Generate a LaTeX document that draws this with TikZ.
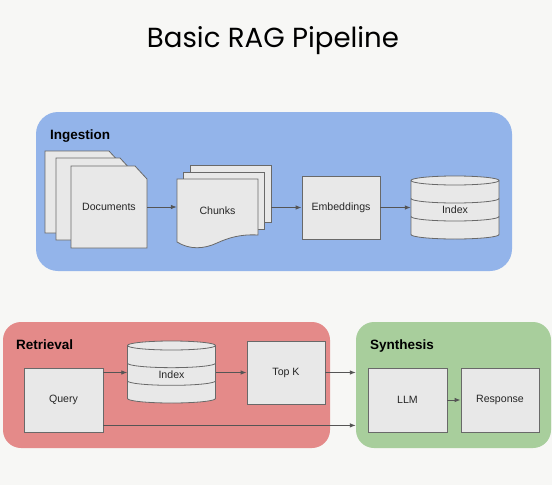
\documentclass[tikz,border=0pt]{standalone}
\usepackage{fontspec}
\setmainfont{Liberation Sans}
\newfontfamily\titlefont{Poppins}
\usetikzlibrary{arrows.meta, positioning}
\definecolor{pagebg}{RGB}{247, 247, 245}
\definecolor{ingestblue}{RGB}{147, 180, 234}
\definecolor{retrievered}{RGB}{228, 138, 137}
\definecolor{synthgreen}{RGB}{168, 206, 156}
\definecolor{boxfill}{RGB}{232, 232, 232}
\definecolor{boxline}{RGB}{105, 105, 105}
\definecolor{arrowgray}{RGB}{85, 85, 85}

% page with a cut corner, top left at (#1,#2)
\newcommand{\docpage}[2]{%
  \filldraw[sheet] (#1,#2) -- ++(64,0) -- ++(12,13) -- ++(0,69) -- ++(-76,0) -- cycle;}

% database drum: centre x #1, top y #2, height #3
\newcommand{\drum}[3]{%
  \filldraw[sheet] (#1-44,#2+4.5) -- (#1-44,#2+#3-4.5)
    arc[start angle=180, end angle=360, x radius=44pt, y radius=4.5pt]
    -- (#1+44,#2+4.5)
    arc[start angle=0, end angle=180, x radius=44pt, y radius=4.5pt] -- cycle;
  \draw[rim] (#1-44,#2+4.5)
    arc[start angle=180, end angle=360, x radius=44pt, y radius=4.5pt];
  \draw[rim] (#1-44,#2+4.5+#3/3-3)
    arc[start angle=180, end angle=360, x radius=44pt, y radius=4.5pt];
  \draw[rim] (#1-44,#2+4.5+2*#3/3-6)
    arc[start angle=180, end angle=360, x radius=44pt, y radius=4.5pt];}

\begin{document}
\begin{tikzpicture}[x=1pt, y=-1pt,
    >={Latex[length=6pt, width=4.5pt]},
    group/.style={rectangle, draw=none, inner sep=0pt},
    grouplabel/.style={anchor=base west, inner sep=0pt,
                       font=\fontsize{13.5}{16}\selectfont\bfseries},
    sheet/.style={draw=boxline, fill=boxfill, line width=0.8pt},
    rim/.style={draw=boxline, line width=0.8pt},
    boxtext/.style={inner sep=0pt, font=\fontsize{10.6}{12}\selectfont, text=black!85},
    box/.style={sheet, boxtext, rectangle, minimum width=78pt, minimum height=63pt},
    flow/.style={->, draw=arrowgray, line width=0.8pt}]

    \useasboundingbox (0,0) rectangle (552,485);
    \fill[pagebg] (0,0) rectangle (552,485);

    % Title
    \node[anchor=base, inner sep=0pt, font=\titlefont\fontsize{27.6}{32}\selectfont] (title) at (273,47) {Basic RAG Pipeline};

    % Ingestion
    \node[group, fill=ingestblue, rounded corners=22pt, minimum width=476pt, minimum height=159pt] (ingestion) at (274,191.5) {};
    \node[grouplabel] (inglabel) at (50,139.5) {Ingestion};

    \docpage{45}{151}
    \docpage{56}{158}
    \docpage{71}{166}
    \node[boxtext, minimum width=76pt, minimum height=82pt] (docs) at (109,207) {Documents};

    \node[sheet, minimum width=81pt, minimum height=57pt] (chunks3) at (230.5,193.5) {};
    \node[sheet, minimum width=81pt, minimum height=57pt] (chunks2) at (224,200.5) {};
    \filldraw[sheet] (177,179) -- (258,179) -- (258,235)
        .. controls (240,234) and (228,238) .. (217,243)
        .. controls (204,249) and (190,250) .. (177,242) -- cycle;
    \node[boxtext, minimum width=81pt, minimum height=63pt] (chunks) at (217.5,211) {Chunks};

    \node[box] (emb) at (341,207.5) {Embeddings};

    \drum{455}{176}{63}
    \node[boxtext, minimum width=88pt, minimum height=63pt] (idx1) at (455,210) {Index};

    \draw[flow] (docs.east) -- (docs.east -| chunks.west);
    \draw[flow] (chunks3.east |- emb.west) -- (emb.west);
    \draw[flow] (emb.east) -- (emb.east -| idx1.west);

    % Retrieval
    \node[group, fill=retrievered, rounded corners=18pt, minimum width=327pt, minimum height=126pt] (retrieval) at (166.5,385) {};
    \node[grouplabel] (retlabel) at (16,349.5) {Retrieval};

    \node[box, minimum width=79pt, minimum height=64pt] (query) at (63.5,400) {Query};
    \drum{171.5}{341}{62}
    \node[boxtext, minimum width=88pt, minimum height=62pt] (idx2) at (171.5,375) {Index};
    \node[box] (topk) at (286,372.5) {Top K};

    % Synthesis
    \node[group, fill=synthgreen, rounded corners=18pt, minimum width=195pt, minimum height=126pt] (synthesis) at (453.5,385) {};
    \node[grouplabel] (synlabel) at (370,349.5) {Synthesis};

    \node[box, minimum width=79pt, minimum height=64pt] (llm) at (407.5,400) {LLM};
    \node[box, minimum height=64pt] (resp) at (500,400) {Response};

    % Arrows
    \draw[flow] (query.east |- topk) -- (idx2.west |- topk);
    \draw[flow] (idx2.east |- topk) -- (topk.west);
    \draw[flow] (topk.east) -- (topk.east -| synthesis.west);
    \draw[flow] ([yshift=7pt]query.south east) -- ([yshift=7pt]query.south east -| synthesis.west);
    \draw[flow] (llm) -- (resp);
\end{tikzpicture}
\end{document}
